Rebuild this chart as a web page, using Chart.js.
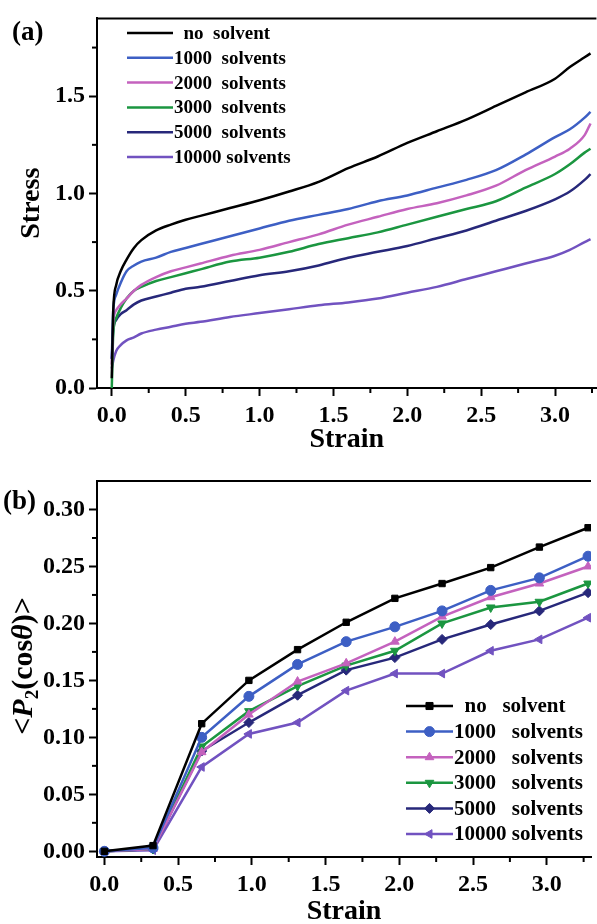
<!DOCTYPE html>
<html>
<head>
    <title>Stress and orientation vs strain</title>
    <script src="https://cdn.jsdelivr.net/npm/chart.js@4.4.1/dist/chart.umd.min.js"></script>
    <style>
        body { margin: 0; padding: 0; background: #fff; }
        #boxA { width: 597px; height: 460px; }
        #boxB { width: 597px; height: 464px; }
        canvas { display: block; }
    </style>
</head>
<body>

<div id="boxA"><canvas id="stressChart" width="597" height="460"></canvas></div>
<div id="boxB"><canvas id="orderChart" width="597" height="464"></canvas></div>

<script>
    // ---- data (a): stress-strain curves ----
    var strainA = [0, 0.01, 0.03, 0.06, 0.1, 0.15, 0.2, 0.3, 0.4, 0.5, 0.6, 0.8, 1.0, 1.2, 1.4, 1.6, 1.8, 2.0, 2.2, 2.4, 2.6, 2.8, 3.0, 3.1, 3.2, 3.24];
    var stressNo    = [0.05, 0.40, 0.53, 0.60, 0.66, 0.72, 0.76, 0.81, 0.84, 0.865, 0.885, 0.925, 0.965, 1.01, 1.06, 1.13, 1.19, 1.26, 1.32, 1.38, 1.45, 1.52, 1.59, 1.65, 1.70, 1.72];
    var stress1000  = [0.15, 0.40, 0.48, 0.54, 0.60, 0.63, 0.65, 0.67, 0.70, 0.72, 0.74, 0.78, 0.82, 0.86, 0.89, 0.92, 0.96, 0.99, 1.03, 1.07, 1.12, 1.20, 1.29, 1.33, 1.39, 1.42];
    var stress2000  = [0.12, 0.34, 0.40, 0.43, 0.46, 0.50, 0.53, 0.57, 0.60, 0.62, 0.64, 0.68, 0.71, 0.75, 0.79, 0.84, 0.88, 0.92, 0.95, 0.99, 1.04, 1.12, 1.19, 1.23, 1.30, 1.36];
    var stress3000  = [0.00, 0.28, 0.36, 0.41, 0.46, 0.50, 0.52, 0.55, 0.57, 0.59, 0.61, 0.65, 0.67, 0.70, 0.74, 0.77, 0.80, 0.84, 0.88, 0.92, 0.96, 1.03, 1.10, 1.15, 1.21, 1.23];
    var stress5000  = [0.15, 0.30, 0.35, 0.38, 0.40, 0.43, 0.45, 0.47, 0.49, 0.51, 0.52, 0.55, 0.58, 0.60, 0.63, 0.67, 0.70, 0.73, 0.77, 0.81, 0.86, 0.91, 0.97, 1.01, 1.07, 1.10];
    var stress10000 = [0.10, 0.14, 0.19, 0.22, 0.245, 0.26, 0.28, 0.30, 0.315, 0.33, 0.34, 0.365, 0.385, 0.405, 0.425, 0.44, 0.46, 0.49, 0.52, 0.56, 0.60, 0.64, 0.68, 0.71, 0.75, 0.765];
    var labelsA = ['  no  solvent', '1000  solvents', '2000  solvents', '3000  solvents', '5000  solvents', '10000 solvents'];

    // ---- data (b): <P2(cos theta)> vs strain ----
    var strainB = [0, 0.33, 0.66, 0.98, 1.31, 1.64, 1.97, 2.29, 2.62, 2.95, 3.28];
    var p2No    = [0, 0.005, 0.112, 0.150, 0.177, 0.201, 0.222, 0.235, 0.249, 0.267, 0.284];
    var p2_1000 = [0, 0.003, 0.100, 0.136, 0.164, 0.184, 0.197, 0.211, 0.229, 0.240, 0.259];
    var p2_2000 = [0, 0.002, 0.087, 0.120, 0.149, 0.165, 0.184, 0.206, 0.223, 0.235, 0.250];
    var p2_3000 = [0, 0.002, 0.092, 0.123, 0.145, 0.163, 0.176, 0.200, 0.214, 0.219, 0.235];
    var p2_5000 = [0, 0.002, 0.088, 0.113, 0.137, 0.159, 0.170, 0.186, 0.199, 0.211, 0.227];
    var p2_10000 = [0, 0.001, 0.074, 0.103, 0.113, 0.141, 0.156, 0.156, 0.176, 0.186, 0.205];
    var labelsB = ['  no   solvent', '1000   solvents', '2000   solvents', '3000   solvents', '5000   solvents', '10000 solvents'];

    // ---- tick positions ----
    var xTicks  = [0, 0.25, 0.5, 0.75, 1.0, 1.25, 1.5, 1.75, 2.0, 2.25, 2.5, 2.75, 3.0, 3.25];
    var yTicksA = [0, 0.25, 0.5, 0.75, 1.0, 1.25, 1.5, 1.75];
    var yTicksB = [0, 0.025, 0.05, 0.075, 0.1, 0.125, 0.15, 0.175, 0.2, 0.225, 0.25, 0.275, 0.3];

    var colors = ['#000000', '#3d5fc4', '#c462be', '#1b9640', '#27287a', '#7152c0'];
    var markers = ['rect', 'circle', 'triangle', 'triangle', 'rectRot', 'triangle'];
    var markerRot = [0, 0, 0, 180, 0, -90];

    var FONT = '"Liberation Serif", "Times New Roman", serif';

    function isMajor(v, step) {
        var r = v / step;
        return Math.abs(r - Math.round(r)) < 1e-6;
    }

    function pairs(xs, ys) {
        return xs.map(function (x, i) { return {x: x, y: ys[i]}; });
    }

    // axis with major (labelled) ticks, minor ticks drawn by plugin
    function makeAxis(min, max, ticks, step, dec, fitSize, horizontal, title) {
        return {
            type: 'linear',
            min: min,
            max: max,
            afterBuildTicks: function (s) {
                s.ticks = ticks.map(function (v) { return {value: v}; });
            },
            afterFit: function (s) {
                if (horizontal) s.height = fitSize; else s.width = fitSize;
            },
            grid: {
                drawOnChartArea: false,
                drawTicks: true,
                tickLength: 8,
                tickWidth: 2,
                tickColor: function (c) {
                    return (c.tick && isMajor(c.tick.value, step)) ? '#000' : 'rgba(0,0,0,0)';
                }
            },
            border: {display: true, color: '#000', width: 2},
            ticks: {
                color: '#000',
                autoSkip: false,
                maxRotation: 0,
                padding: horizontal ? 5 : 4,
                font: {family: FONT, size: 24, weight: 'bold'},
                callback: function (v) {
                    return isMajor(v, step) ? Number(v).toFixed(dec) : '';
                }
            },
            title: title
        };
    }

    // frame top line, minor ticks, panel letter, in-plot legend
    var extras = {
        id: 'extras',
        afterDraw: function (chart, args, o) {
            var ctx = chart.ctx, a = chart.chartArea;
            ctx.save();
            ctx.strokeStyle = '#000';
            ctx.lineWidth = 2;
            ctx.beginPath();
            ctx.moveTo(a.left - 1, a.top);
            ctx.lineTo(a.right, a.top);
            ctx.stroke();

            // minor ticks
            var sx = chart.scales.x, sy = chart.scales.y;
            ctx.lineWidth = 2;
            sx.ticks.forEach(function (t) {
                if (isMajor(t.value, o.xStep)) return;
                var px = sx.getPixelForValue(t.value);
                ctx.beginPath(); ctx.moveTo(px, a.bottom); ctx.lineTo(px, a.bottom + 5); ctx.stroke();
            });
            sy.ticks.forEach(function (t) {
                if (isMajor(t.value, o.yStep)) return;
                var py = sy.getPixelForValue(t.value);
                ctx.beginPath(); ctx.moveTo(a.left, py); ctx.lineTo(a.left - 5, py); ctx.stroke();
            });

            // panel letter
            ctx.fillStyle = '#000';
            ctx.font = 'bold 27px ' + FONT;
            ctx.textBaseline = 'middle';
            ctx.textAlign = 'left';
            ctx.fillText(o.letter, o.letterX, o.letterY);

            // legend
            ctx.font = 'bold ' + o.legFont + 'px ' + FONT;
            chart.data.datasets.forEach(function (ds, i) {
                var y = o.legY + i * o.legGap;
                ctx.strokeStyle = ds.borderColor;
                ctx.lineWidth = 2.5;
                ctx.beginPath();
                ctx.moveTo(o.legX, y);
                ctx.lineTo(o.legX + o.legLen, y);
                ctx.stroke();
                if (o.markers) {
                    ctx.fillStyle = ds.borderColor;
                    ctx.strokeStyle = ds.borderColor;
                    ctx.lineWidth = 1;
                    Chart.helpers.drawPoint(ctx, {
                        pointStyle: ds.pointStyle, radius: 5, rotation: ds.pointRotation || 0, borderWidth: 1
                    }, o.legX + o.legLen / 2, y);
                }
                ctx.fillStyle = '#000';
                ctx.fillText(ds.label, o.legX + o.legLen + 1, y + 1);
            });

            // custom rotated y title with italics and subscript
            if (o.p2Title) {
                ctx.translate(32, o.p2Title);
                ctx.rotate(-Math.PI / 2);
                var parts = [
                    {t: '<', f: 'bold 30px ', dy: 0},
                    {t: 'P', f: 'italic bold 30px ', dy: 0},
                    {t: '2', f: 'bold 19px ', dy: 6},
                    {t: '(cos', f: 'bold 30px ', dy: 0},
                    {t: 'θ', f: 'italic bold 30px ', dy: 0},
                    {t: ')>', f: 'bold 30px ', dy: 0}
                ];
                var total = 0;
                parts.forEach(function (p) { ctx.font = p.f + FONT; p.w = ctx.measureText(p.t).width; total += p.w; });
                var x = -total / 2;
                ctx.textBaseline = 'alphabetic';
                parts.forEach(function (p) {
                    ctx.font = p.f + FONT;
                    ctx.fillText(p.t, x, p.dy);
                    x += p.w;
                });
            }
            ctx.restore();
        }
    };

    // ---- chart (a) ----
    var dsA = [stressNo, stress1000, stress2000, stress3000, stress5000, stress10000].map(function (s, i) {
        return {
            label: labelsA[i],
            data: pairs(strainA, s),
            borderColor: colors[i],
            borderWidth: 2.5,
            pointRadius: 0,
            cubicInterpolationMode: 'monotone',
            fill: false
        };
    });

    new Chart(document.getElementById('stressChart').getContext('2d'), {
        type: 'line',
        data: {datasets: dsA},
        options: {
            responsive: false,
            animation: false,
            layout: {padding: {top: 14, right: 0, left: 0, bottom: 0}},
            scales: {
                x: makeAxis(-0.1, 3.28, xTicks, 0.5, 1, 72, true,
                    {display: true, text: 'Strain', color: '#000',
                     font: {family: FONT, size: 28, weight: 'bold', lineHeight: 1.0}, padding: {top: 0, bottom: 6}}),
                y: makeAxis(0, 1.9, yTicksA, 0.5, 1, 97, false,
                    {display: true, text: 'Stress', color: '#000',
                     font: {family: FONT, size: 28, weight: 'bold', lineHeight: 1.0}, padding: {top: 18, bottom: 0}})
            },
            plugins: {
                legend: {display: false},
                tooltip: {enabled: false},
                extras: {xStep: 0.5, yStep: 0.5, letter: '(a)', letterX: 12, letterY: 33,
                    legX: 127, legY: 33, legGap: 24.8, legLen: 46, legFont: 19, markers: false}
            }
        },
        plugins: [extras]
    });

    // ---- chart (b) ----
    var dsB = [p2No, p2_1000, p2_2000, p2_3000, p2_5000, p2_10000].map(function (s, i) {
        return {
            label: labelsB[i],
            data: pairs(strainB, s),
            borderColor: colors[i],
            backgroundColor: colors[i],
            borderWidth: 2.5,
            pointStyle: markers[i],
            pointRotation: markerRot[i],
            pointRadius: i === 0 ? 4.5 : 5,
            pointBackgroundColor: colors[i],
            pointBorderColor: colors[i],
            pointBorderWidth: 1,
            tension: 0,
            fill: false
        };
    });

    new Chart(document.getElementById('orderChart').getContext('2d'), {
        type: 'line',
        data: {datasets: dsB},
        options: {
            responsive: false,
            animation: false,
            layout: {padding: {top: 21, right: 0, left: 0, bottom: 0}},
            scales: {
                x: makeAxis(-0.05, 3.3, xTicks, 0.5, 1, 67, true,
                    {display: true, text: 'Strain', color: '#000',
                     font: {family: FONT, size: 28, weight: 'bold', lineHeight: 0.9}, padding: {top: 0, bottom: 0}}),
                y: makeAxis(-0.005, 0.325, yTicksB, 0.05, 2, 97, false, {display: false})
            },
            plugins: {
                legend: {display: false},
                tooltip: {enabled: false},
                extras: {xStep: 0.5, yStep: 0.05, letter: '(b)', letterX: 3, letterY: 42,
                    legX: 406, legY: 246, legGap: 25.6, legLen: 47, legFont: 21, markers: true, p2Title: 206}
            }
        },
        plugins: [extras]
    });
</script>

</body>
</html>
